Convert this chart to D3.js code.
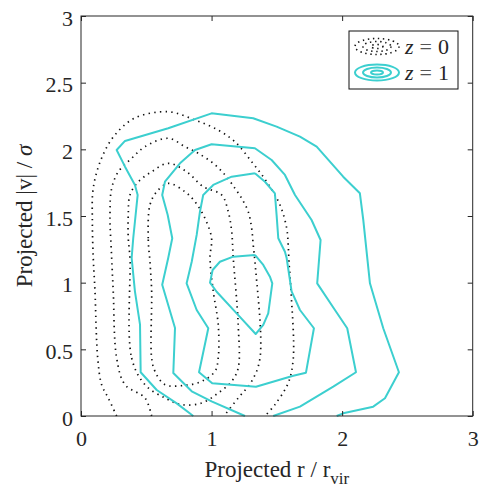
<!DOCTYPE html>
<html><head><meta charset="utf-8">
<script src="https://cdn.jsdelivr.net/npm/d3@7"></script>
<style>body{margin:0;background:#fff}svg{display:block}</style>
</head><body><svg id="c" width="479" height="489"></svg>
<script>
// ---- data ----
const xTicks = [0, 1, 2, 3];
const yTicks = [0, 0.5, 1, 1.5, 2, 2.5, 3];
const seriesLabels = ["z = 0", "z = 1"];

// z = 0 contours (dotted), [r, |v|]
const z0Level1 = [[0.528,1.157],[0.515,1.333],[0.528,1.583],[0.58,1.682],[0.668,1.745],[0.796,1.682],[0.873,1.607],[0.949,1.483],[1.0,1.333],[0.988,1.185],[1.013,0.935],[1.051,0.685],[1.051,0.435],[1.026,0.335],[0.924,0.26],[0.796,0.23],[0.643,0.235],[0.567,0.335],[0.541,0.435],[0.541,0.9375]];
const z0Level2 = [[0.375,1.185],[0.388,0.435],[0.49,0.235],[0.643,0.135],[0.771,0.085],[0.924,0.0975],[1.051,0.1725],[1.154,0.26],[1.204,0.36],[1.204,0.685],[1.166,1.185],[1.154,1.383],[1.128,1.532],[1.077,1.658],[0.936,1.72],[0.809,1.832],[0.668,1.895],[0.541,1.832],[0.439,1.757],[0.375,1.658],[0.362,1.508],[0.362,1.333]];
const z0Level3 = [[0.541,0],[0.49,0.135],[0.337,0.235],[0.273,0.435],[0.247,0.935],[0.235,1.185],[0.222,1.508],[0.235,1.708],[0.286,1.832],[0.388,1.933],[0.49,2.02],[0.668,2.083],[0.796,2.02],[0.898,1.97],[1.013,1.895],[1.103,1.808],[1.179,1.708],[1.23,1.633],[1.281,1.532],[1.307,1.408],[1.319,1.283],[1.332,1.157],[1.371,0.435],[1.307,0.26],[1.204,0.135],[1.095,0]];
const z0Level4 = [[0.273,0],[0.209,0.135],[0.158,0.235],[0.128,0.435],[0.107,0.9375],[0.094,1.185],[0.087,1.457],[0.094,1.71],[0.158,1.935],[0.26,2.108],[0.413,2.235],[0.668,2.282],[0.873,2.22],[1.049,2.145],[1.179,2.057],[1.307,1.907],[1.422,1.757],[1.524,1.583],[1.575,1.41],[1.587,1.283],[1.593,1.157],[1.608,0.9375],[1.626,0.435],[1.587,0.2475],[1.485,0.085],[1.409,0]];

// z = 1 contours (solid)
const z1Level1 = [[1.332,1.208],[1.166,1.195],[1.064,1.157],[1.008,1.095],[0.988,1.0],[1.039,0.932],[1.192,0.77],[1.338,0.615],[1.396,0.683],[1.434,0.77],[1.465,0.995],[1.447,1.045],[1.396,1.133],[1.332,1.208]];
const z1Level2 = [[1.332,1.82],[1.154,1.795],[1.013,1.733],[0.936,1.658],[0.911,1.532],[0.886,1.358],[0.848,1.157],[0.809,0.995],[0.886,0.795],[0.975,0.658],[0.904,0.328],[1.005,0.245],[1.34,0.22],[1.626,0.302],[1.723,0.325],[1.784,0.658],[1.677,0.795],[1.613,0.935],[1.575,1.185],[1.562,1.232],[1.511,1.333],[1.498,1.508],[1.485,1.67],[1.409,1.757],[1.332,1.82]];
const z1Level3 = [[1.256,0],[1.0,0.11],[0.848,0.185],[0.707,0.3225],[0.72,0.66],[0.622,0.985],[0.668,1.185],[0.699,1.333],[0.664,1.508],[0.622,1.658],[0.643,1.757],[0.758,1.895],[0.873,1.995],[1.0,2.038],[1.332,2.008],[1.46,1.92],[1.562,1.808],[1.639,1.658],[1.766,1.47],[1.835,1.32],[1.809,0.995],[1.945,0.795],[2.039,0.658],[2.106,0.328],[1.932,0.22],[1.677,0.07],[1.472,0]];
const z1Level4 = [[0.86,0],[0.733,0.095],[0.58,0.195],[0.457,0.328],[0.452,0.685],[0.413,0.935],[0.388,1.185],[0.4,1.333],[0.413,1.457],[0.434,1.658],[0.413,1.733],[0.337,1.87],[0.273,1.995],[0.337,2.063],[0.668,2.158],[1.0,2.27],[1.319,2.233],[1.498,2.17],[1.677,2.095],[1.805,2.02],[2.008,1.795],[2.136,1.67],[2.162,1.47],[2.213,0.995],[2.315,0.658],[2.435,0.328],[2.328,0.133],[2.238,0.07],[2.008,0.02],[1.958,0]];

const z0Open = [false, false, true, true];
const z0Levels = [z0Level1, z0Level2, z0Level3, z0Level4];
const z1Levels = [z1Level1, z1Level2, z1Level3, z1Level4];

// ---- drawing ----
const cyan = "#3ccfcf";
const ink = "#262626";
const serif = "'Liberation Serif','DejaVu Serif',serif";
const svg = d3.select("#c");
const x = d3.scaleLinear().domain([0, 3]).range([81, 472.7]);
const y = d3.scaleLinear().domain([0, 3]).range([416, 16]);

const g = svg.append("g");
const lineLin = d3.line().x(d => x(d[0])).y(d => y(d[1]));
const lineOpen = d3.line().x(d => x(d[0])).y(d => y(d[1])).curve(d3.curveCatmullRom);
const lineClosed = d3.line().x(d => x(d[0])).y(d => y(d[1])).curve(d3.curveCatmullRomClosed);

z0Levels.forEach((lev, i) => {
  g.append("path").attr("d", (z0Open[i] ? lineOpen : lineClosed)(lev))
    .attr("fill", "none").attr("stroke", "#111").attr("stroke-width", 1.7)
    .attr("stroke-dasharray", "1.4 4.3");
});
z1Levels.forEach(lev => {
  g.append("path").attr("d", lineLin(lev))
    .attr("fill", "none").attr("stroke", cyan).attr("stroke-width", 2)
    .attr("stroke-linejoin", "round");
});

// axes
function styleAxis(sel) {
  sel.select(".domain").remove();
  sel.selectAll("line").attr("stroke", ink).attr("stroke-width", 1);
  sel.selectAll("text").attr("font-family", serif).attr("font-size", 22).attr("fill", ink);
}
const fmt = d => String(d);
svg.append("g").attr("transform", "translate(0,416)")
  .call(d3.axisBottom(x).tickValues(xTicks).tickFormat(fmt).tickSize(-5).tickPadding(14))
  .call(styleAxis);
svg.append("g").attr("transform", "translate(0,16)")
  .call(d3.axisTop(x).tickValues(xTicks).tickFormat("").tickSize(-5))
  .call(styleAxis);
const yl = svg.append("g").attr("transform", "translate(81,0)")
  .call(d3.axisLeft(y).tickValues(yTicks).tickFormat(fmt).tickSize(-5).tickPadding(8))
  .call(styleAxis);
yl.selectAll("text").attr("dy", "0.41em");
svg.append("g").attr("transform", "translate(472.7,0)")
  .call(d3.axisRight(y).tickValues(yTicks).tickFormat("").tickSize(-5))
  .call(styleAxis);
svg.append("rect").attr("x", 81).attr("y", 16).attr("width", 472.7 - 81).attr("height", 400)
  .attr("fill", "none").attr("stroke", ink).attr("stroke-width", 1);

// axis labels
const xl = svg.append("text").attr("x", (81 + 472.7) / 2).attr("y", 477)
  .attr("text-anchor", "middle").attr("font-family", serif).attr("font-size", 23).attr("fill", ink);
xl.append("tspan").text("Projected r / r");
xl.append("tspan").attr("font-size", 17).attr("dy", 7).text("vir");

const ylab = svg.append("text").attr("transform", "translate(32,216) rotate(-90)")
  .attr("text-anchor", "middle").attr("font-family", serif).attr("font-size", 23).attr("fill", ink);
ylab.append("tspan").text("Projected |v| / ");
ylab.append("tspan").attr("font-style", "italic").text("σ");

// legend
const lg = svg.append("g");
lg.append("rect").attr("x", 349).attr("y", 31).attr("width", 109).attr("height", 58)
  .attr("fill", "#fff").attr("stroke", "#111").attr("stroke-width", 1);
const ell = [[22, 8], [14, 5], [6, 2]];
[46.5, 72.5].forEach((cy, r) => {
  ell.forEach(e => {
    const el = lg.append("ellipse").attr("cx", 377).attr("cy", cy).attr("rx", e[0]).attr("ry", e[1])
      .attr("fill", "none");
    if (r === 0) el.attr("stroke", "#111").attr("stroke-width", 1.6).attr("stroke-dasharray", "1.4 3.6");
    else el.attr("stroke", cyan).attr("stroke-width", 2);
  });
  const t = lg.append("text").attr("x", 405).attr("y", cy + 7)
    .attr("font-family", serif).attr("font-size", 22).attr("fill", ink);
  t.append("tspan").attr("font-style", "italic").text("z");
  t.append("tspan").attr("fill", "#555").attr("dx", 6).text("=");
  t.append("tspan").attr("dx", 6).text(seriesLabels[r].split("= ")[1]);
});
</script></body></html>
